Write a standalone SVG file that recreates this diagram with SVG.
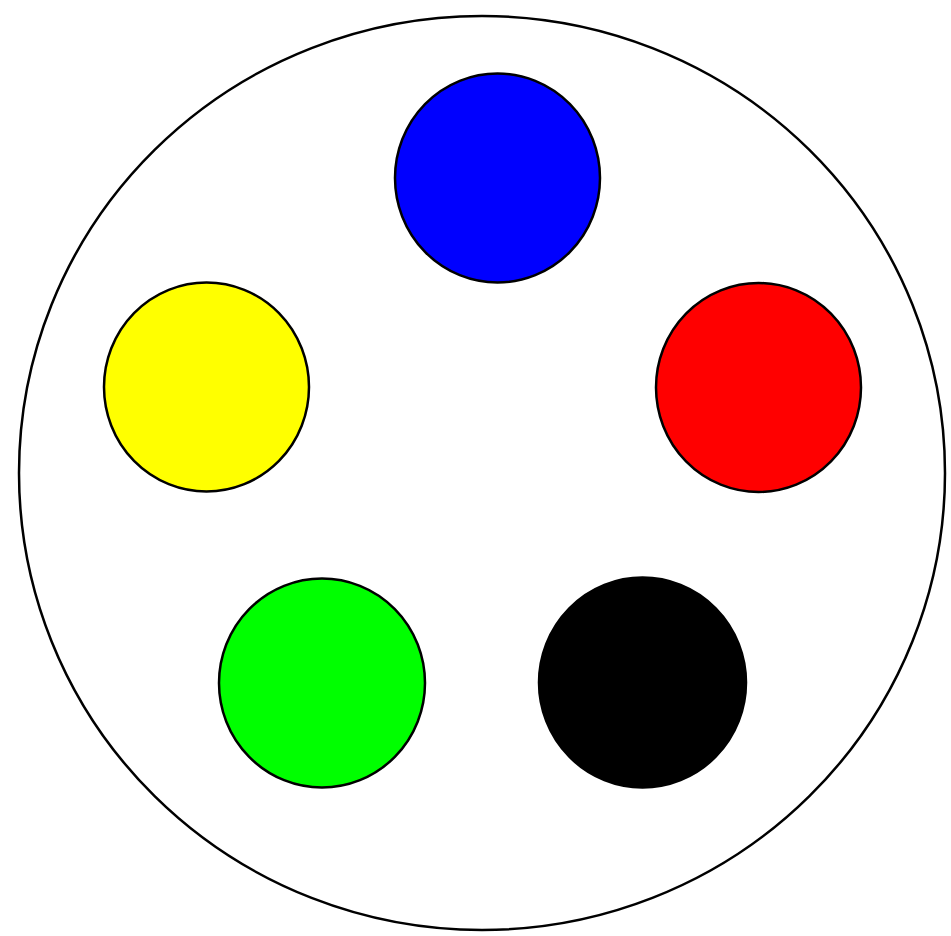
<svg xmlns="http://www.w3.org/2000/svg" width="951" height="936" viewBox="0 0 951 936">
<style>
.dot{stroke:#000;stroke-width:2.5}
</style>
<rect width="951" height="936" fill="#fff"/>
<g id="outer"><ellipse cx="482" cy="473" rx="463" ry="457" fill="#fff" stroke="#000" stroke-width="2.5"/></g>
<g id="blue"><ellipse class="dot" cx="497.5" cy="178" rx="102.5" ry="104.5" fill="#0000ff" stroke="#000066"/></g>
<g id="yellow"><ellipse class="dot" cx="206.5" cy="387" rx="102.5" ry="104.5" fill="#ffff00"/></g>
<g id="red"><ellipse class="dot" cx="758.5" cy="387.5" rx="102.5" ry="104.5" fill="#ff0000" stroke="#330000"/></g>
<g id="green"><ellipse class="dot" cx="322" cy="683" rx="103" ry="104.5" fill="#00ff00"/></g>
<g id="black"><ellipse class="dot" cx="642.5" cy="682.5" rx="103.5" ry="105" fill="#000"/></g>
<g id="connectors"/>
</svg>
